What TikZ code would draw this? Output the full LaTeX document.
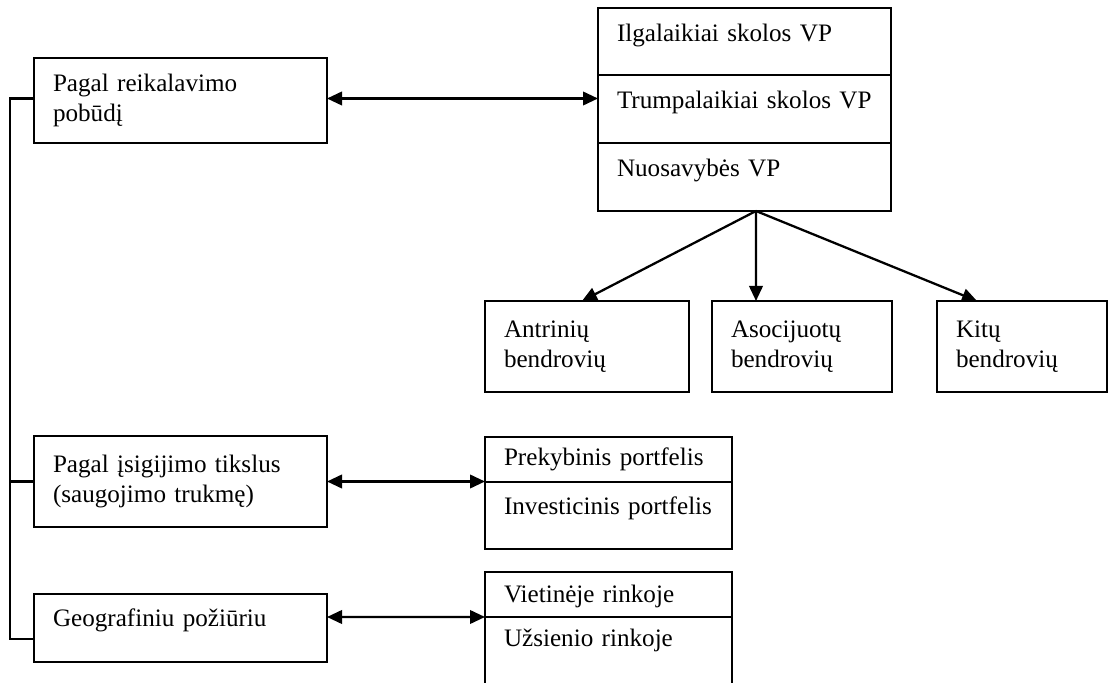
\documentclass[tikz,border=0pt]{standalone}
\usepackage{fontspec}
\setmainfont{Liberation Serif}
\usepackage{tikz}
\usetikzlibrary{arrows.meta, positioning, calc}
\newcommand{\boxfont}{\fontsize{14.3pt}{17pt}\selectfont}

\begin{document}
\begin{tikzpicture}[
    box/.style={draw, line width=1.3pt, inner xsep=0.38cm, inner ysep=0pt, outer sep=0pt,
                align=left, anchor=north west, font=\boxfont},
    cell/.style 2 args={box, text height=#1, text depth=#2},
    link/.style={line width=1.3pt},
    arr/.style={line width=1.3pt, -{Triangle[length=0.3cm, width=0.27cm]}},
    biarr/.style={line width=1.3pt, {Triangle[length=0.3cm, width=0.27cm]}-{Triangle[length=0.3cm, width=0.27cm]}}
]
    \useasboundingbox (0,0) rectangle (22.30,-13.66);

    % Left column
    \node[box, text width=5.10cm, minimum height=1.70cm] (reik) at (0.68,-1.16) {
        Pagal reikalavimo\\pobūdį
    };
    \node[box, text width=5.10cm, minimum height=1.82cm] (tiksl) at (0.68,-8.72) {
        Pagal įsigijimo tikslus\\(saugojimo trukmę)
    };
    \node[cell={0.66cm}{0.70cm}, text width=5.10cm] (geo) at (0.68,-11.88) {Geografiniu požiūriu};

    % Securities by type of claim
    \node[cell={0.68cm}{0.66cm}, text width=5.10cm] (ilg) at (11.96,-0.16) {Ilgalaikiai skolos VP};
    \node[cell={0.68cm}{0.68cm}, text width=5.10cm, below=0pt of ilg] (trump) {Trumpalaikiai skolos VP};
    \node[cell={0.68cm}{0.68cm}, text width=5.10cm, below=0pt of trump] (nuos) {Nuosavybės VP};

    \node[box, text width=3.32cm, minimum height=1.82cm] (antr) at (9.70,-6.02) {Antrinių\\bendrovių};
    \node[box, text width=2.84cm, minimum height=1.82cm] (asoc) at (14.24,-6.02) {Asocijuotų\\bendrovių};
    \node[box, text width=2.64cm, minimum height=1.82cm] (kitu) at (18.74,-6.02) {Kitų\\bendrovių};

    % Portfolios
    \node[cell={0.58cm}{0.32cm}, text width=4.18cm] (prek) at (9.70,-8.74) {Prekybinis portfelis};
    \node[cell={0.66cm}{0.68cm}, text width=4.18cm, below=0pt of prek] (inv) {Investicinis portfelis};

    % Markets
    \node[cell={0.62cm}{0.28cm}, text width=4.18cm] (viet) at (9.70,-11.44) {Vietinėje rinkoje};
    \node[cell={0.60cm}{1.62cm}, text width=4.18cm, below=0pt of viet] (uzs) {Užsienio rinkoje};

    % Left bracket
    \draw[link] ([yshift=0.04cm]reik.west) -- ++(-0.48,0) |- ([yshift=-0.22cm]geo.west);
    \draw[link] (tiksl.west) -- ++(-0.48,0);

    % Arrows
    \draw[biarr] ([yshift=0.04cm]reik.east) -- ([yshift=0.04cm]reik.east -| trump.west);
    \draw[biarr] (tiksl.east) -- (tiksl.east -| inv.west);
    \draw[biarr] ([yshift=0.22cm]geo.east) -- (uzs.north west);

    \coordinate (fork) at ([xshift=0.23cm]nuos.south);
    \draw[arr] (fork) -- ([xshift=-0.10cm]antr.north);
    \draw[arr] (fork) -- ([xshift=-0.92cm]asoc.north);
    \draw[arr] (fork) -- ([xshift=-0.90cm]kitu.north);
\end{tikzpicture}
\end{document}
